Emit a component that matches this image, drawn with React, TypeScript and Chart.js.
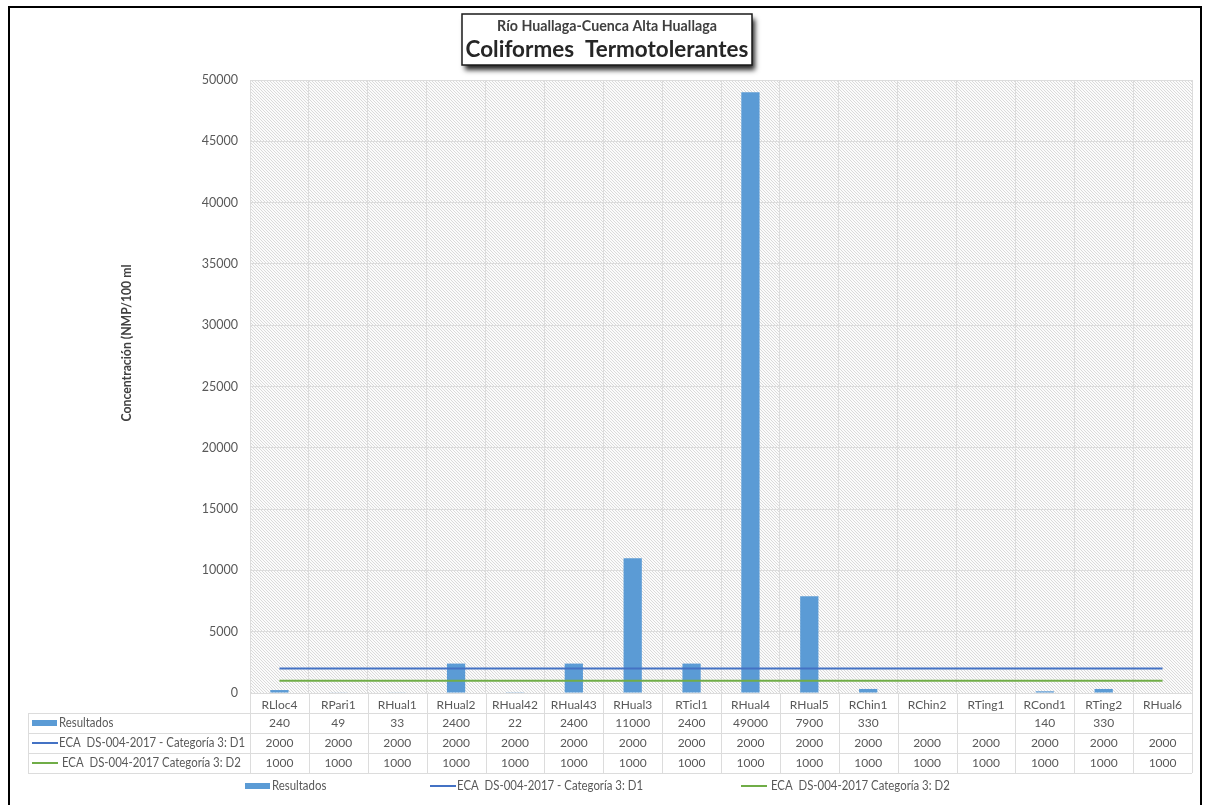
import { useEffect, useRef } from "react";
import { Chart, registerables } from "chart.js";

Chart.register(...registerables);

// Monitoring stations along the Huallaga river (upper basin)
const stations = [
  "RLloc4", "RPari1", "RHual1", "RHual2", "RHual42", "RHual43", "RHual3", "RTicl1",
  "RHual4", "RHual5", "RChin1", "RChin2", "RTing1", "RCond1", "RTing2", "RHual6",
];

// Thermotolerant coliforms, NMP/100 ml (null = no sample)
const resultados: (number | null)[] = [
  240, 49, 33, 2400, 22, 2400, 11000, 2400, 49000, 7900, 330, null, null, 140, 330, null,
];

// Water quality standard ECA DS-004-2017, category 3
const ecaD1 = [2000, 2000, 2000, 2000, 2000, 2000, 2000, 2000, 2000, 2000, 2000, 2000, 2000, 2000, 2000, 2000];
const ecaD2 = [1000, 1000, 1000, 1000, 1000, 1000, 1000, 1000, 1000, 1000, 1000, 1000, 1000, 1000, 1000, 1000];

const seriesNames = [
  "Resultados",
  "ECA  DS-004-2017 - Categoría 3: D1",
  " ECA  DS-004-2017 Categoría 3: D2",
];

const titleLine1 = "Río Huallaga-Cuenca Alta Huallaga";
const titleLine2 = "Coliformes  Termotolerantes";
const yAxisTitle = "Concentración (NMP/100 ml";

const yTicks = { min: 0, max: 50000, step: 5000 };

const BAR_COLOR = "#5B9BD5";
const D1_COLOR = "#4472C4";
const D2_COLOR = "#70AD47";
const TEXT = "#595959";
const GRID = "#dcdcdc";
const FONT = "Lato, 'Open Sans', sans-serif";

function makeHatch(ctx: CanvasRenderingContext2D): CanvasPattern | string {
  const tile = document.createElement("canvas");
  tile.width = 3;
  tile.height = 3;
  const t = tile.getContext("2d");
  if (!t) return "#f2f2f2";
  t.fillStyle = "#fbfbfb";
  t.fillRect(0, 0, 3, 3);
  t.fillStyle = "#dadada";
  for (let i = 0; i < 3; i++) t.fillRect(i, i, 1, 1);
  return ctx.createPattern(tile, "repeat") || "#f2f2f2";
}

// pick a font size so that the text spans the given width
function fitSize(ctx: CanvasRenderingContext2D, text: string, weight: string, width: number) {
  ctx.font = `${weight} 20px ${FONT}`;
  const w = ctx.measureText(text).width;
  return (20 * width) / w;
}

// left-aligned text drawn slightly condensed, like a narrow UI face
function narrowText(ctx: CanvasRenderingContext2D, text: string, tx: number, ty: number, sx: number) {
  ctx.save();
  ctx.translate(tx, ty);
  ctx.scale(sx, 1);
  ctx.fillText(text, 0, 0);
  ctx.restore();
}

const decorPlugin = {
  id: "decor",
  beforeDraw(chart: any) {
    const { ctx, chartArea: a } = chart;
    ctx.save();
    ctx.fillStyle = "#ffffff";
    ctx.fillRect(0, 0, chart.width, chart.height);
    ctx.fillStyle = makeHatch(ctx);
    ctx.fillRect(a.left, a.top, a.right - a.left, a.bottom - a.top);
    ctx.restore();
  },
  afterDraw(chart: any) {
    const { ctx, chartArea: a } = chart;
    const x = chart.scales.x;
    const n = stations.length;
    const colW = (a.right - a.left) / n;
    const tableLeft = 28;
    const rowTops = [a.bottom, a.bottom + 20, a.bottom + 40, a.bottom + 60, a.bottom + 80];

    ctx.save();
    // outer frame
    ctx.strokeStyle = "#000000";
    ctx.lineWidth = 2;
    ctx.strokeRect(9, 7, 1192, 820);

    // data table grid
    ctx.strokeStyle = GRID;
    ctx.lineWidth = 1;
    ctx.beginPath();
    for (let r = 1; r < rowTops.length; r++) {
      ctx.moveTo(tableLeft, Math.round(rowTops[r]) + 0.5);
      ctx.lineTo(a.right, Math.round(rowTops[r]) + 0.5);
    }
    ctx.moveTo(tableLeft + 0.5, rowTops[1]);
    ctx.lineTo(tableLeft + 0.5, rowTops[4]);
    for (let i = 0; i <= n; i++) {
      const gx = Math.round(a.left + i * colW) + 0.5;
      ctx.moveTo(gx, a.bottom);
      ctx.lineTo(gx, rowTops[4]);
    }
    ctx.stroke();

    // table cells
    ctx.fillStyle = TEXT;
    ctx.font = `12px ${FONT}`;
    ctx.textAlign = "center";
    ctx.textBaseline = "middle";
    const rows: (number | null)[][] = [resultados, ecaD1, ecaD2];
    for (let i = 0; i < n; i++) {
      const cx = x.getPixelForValue(i);
      ctx.fillText(stations[i], cx, rowTops[0] + 12);
      rows.forEach((vals, r) => {
        const v = vals[i];
        if (v !== null && v !== undefined) ctx.fillText(String(v), cx, rowTops[r + 1] + 10);
      });
    }

    // legend keys
    const drawKey = (kind: number, kx: number, ky: number) => {
      if (kind === 0) {
        ctx.fillStyle = BAR_COLOR;
        ctx.fillRect(kx, ky - 3, 25, 6);
      } else {
        ctx.strokeStyle = kind === 1 ? D1_COLOR : D2_COLOR;
        ctx.lineWidth = 2;
        ctx.beginPath();
        ctx.moveTo(kx, ky);
        ctx.lineTo(kx + 26, ky);
        ctx.stroke();
      }
    };
    ctx.font = `12.5px ${FONT}`;
    const squeeze = 186 / ctx.measureText(seriesNames[1]).width;
    ctx.textAlign = "left";
    for (let r = 0; r < 3; r++) {
      const cy = rowTops[r + 1] + 10;
      drawKey(r, 32, cy);
      ctx.fillStyle = TEXT;
      narrowText(ctx, seriesNames[r], 59, cy, squeeze);
    }

    // bottom legend
    const legendY = 786;
    const legendX = [245, 430, 741];
    for (let r = 0; r < 3; r++) {
      drawKey(r, legendX[r], legendY);
      ctx.fillStyle = TEXT;
      narrowText(ctx, seriesNames[r], legendX[r] + 27, legendY, squeeze);
    }

    // y axis title
    ctx.save();
    ctx.translate(127, 343);
    ctx.rotate(-Math.PI / 2);
    ctx.fillStyle = "#404040";
    ctx.font = `bold ${fitSize(ctx, yAxisTitle, "bold", 157)}px ${FONT}`;
    ctx.textAlign = "center";
    ctx.fillText(yAxisTitle, 0, 0);
    ctx.restore();

    // title box with drop shadow
    const bx = 462, by = 14, bw = 290, bh = 51;
    ctx.save();
    ctx.shadowColor = "rgba(0,0,0,0.85)";
    ctx.shadowBlur = 5;
    ctx.shadowOffsetX = 3;
    ctx.shadowOffsetY = 5;
    ctx.fillStyle = "#ffffff";
    ctx.fillRect(bx, by, bw, bh);
    ctx.restore();
    ctx.strokeStyle = "#1a1a1a";
    ctx.lineWidth = 1.5;
    ctx.strokeRect(bx, by, bw, bh);
    ctx.textAlign = "center";
    ctx.fillStyle = "#404040";
    ctx.font = `bold ${fitSize(ctx, titleLine1, "bold", 220)}px ${FONT}`;
    ctx.fillText(titleLine1, bx + bw / 2, 26);
    ctx.fillStyle = "#262626";
    ctx.font = `bold ${fitSize(ctx, titleLine2, "bold", 283)}px ${FONT}`;
    ctx.fillText(titleLine2, bx + bw / 2, 50);
    ctx.restore();
  },
};

export default function App() {
  const ref = useRef<HTMLCanvasElement | null>(null);

  useEffect(() => {
    if (!ref.current) return;
    const chart = new Chart(ref.current, {
      type: "bar",
      data: {
        labels: stations,
        datasets: [
          {
            type: "bar",
            label: seriesNames[0],
            data: resultados,
            backgroundColor: BAR_COLOR,
            categoryPercentage: 1,
            barPercentage: 0.31,
            order: 2,
          },
          {
            type: "line",
            label: seriesNames[1],
            data: ecaD1,
            borderColor: D1_COLOR,
            borderWidth: 2,
            pointRadius: 0,
            order: 1,
          },
          {
            type: "line",
            label: seriesNames[2],
            data: ecaD2,
            borderColor: D2_COLOR,
            borderWidth: 2,
            pointRadius: 0,
            order: 0,
          },
        ],
      },
      options: {
        animation: false,
        responsive: false,
        layout: { padding: { left: 10, right: 14, top: 80, bottom: 112 } },
        plugins: {
          legend: { display: false },
          tooltip: { enabled: false },
          title: { display: false },
        },
        scales: {
          x: {
            offset: true,
            grid: { color: GRID, offset: true, drawTicks: false },
            border: { color: GRID },
            ticks: { display: false },
            afterFit: (s: any) => {
              s.height = 0;
            },
          },
          y: {
            min: yTicks.min,
            max: yTicks.max,
            grid: { color: GRID, drawTicks: false },
            border: { color: GRID },
            ticks: {
              stepSize: yTicks.step,
              padding: 12,
              color: TEXT,
              font: { family: FONT, size: 12.5 },
              callback: (v: any) => String(v),
            },
            afterFit: (s: any) => {
              s.width = 240;
            },
          },
        },
      },
      plugins: [decorPlugin],
    });
    return () => chart.destroy();
  }, []);

  return (
    <div style={{ position: "fixed", left: 0, top: 0, width: 1206, height: 805, background: "#fff" }}>
      <canvas ref={ref} width={1206} height={805} style={{ width: 1206, height: 805, display: "block" }} />
    </div>
  );
}
